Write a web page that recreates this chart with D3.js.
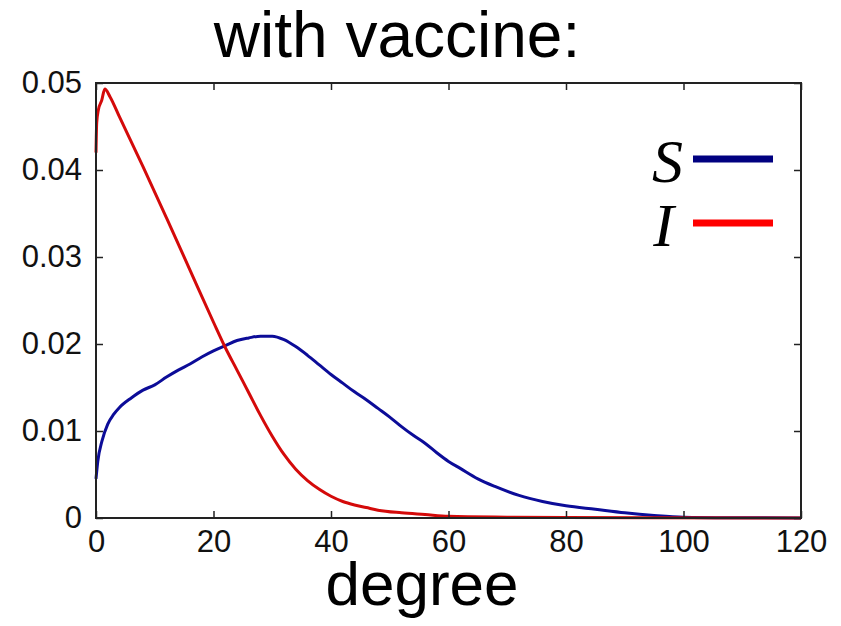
<!DOCTYPE html>
<html>
<head>
<meta charset="utf-8">
<script src="https://cdn.jsdelivr.net/npm/d3@7"></script>
<style>
  html, body { margin: 0; padding: 0; background: #fff; }
  svg { display: block; }
</style>
</head>
<body>
<svg id="chart" width="841" height="626"></svg>
<script>
// Degree distribution of susceptible (S) and infected (I) nodes, with vaccine
const degreeS = [0, 0.3, 1, 2, 3, 4, 6, 8, 10, 12, 14, 16, 18, 20, 22, 24, 26, 28, 30, 32, 34, 36, 38, 40,
  42, 44, 46, 48, 50, 52, 54, 56, 58, 60, 62, 65, 68, 72, 76, 80, 85, 90, 95, 100, 110, 120];
const valuesS = [0.0045, 0.0065, 0.0088, 0.0108, 0.0119, 0.0127, 0.0138, 0.0147, 0.0153, 0.0162, 0.0170,
  0.0177, 0.0185, 0.0192, 0.0198, 0.0204, 0.0207, 0.0209, 0.0209, 0.0205, 0.0197, 0.0187, 0.0176, 0.0165,
  0.0155, 0.0145, 0.0136, 0.0126, 0.0116, 0.0105, 0.0095, 0.0086, 0.0075, 0.0065, 0.0057, 0.0045, 0.0036,
  0.0026, 0.0019, 0.0014, 0.0010, 0.0006, 0.0003, 0.0001, 0.00003, 0];

const degreeI = [0, 0.12, 0.4, 0.97, 1.5, 2.4, 4, 8, 12, 16, 20, 22, 24, 26, 28, 30, 32, 34, 36, 38, 40,
  42, 44, 46, 48, 52, 56, 60, 70, 80, 120];
const valuesI = [0.0420, 0.0454, 0.0469, 0.0480, 0.0493, 0.0484, 0.0461, 0.0404, 0.0345, 0.0285, 0.0225,
  0.0196, 0.0170, 0.0144, 0.0118, 0.0094, 0.0073, 0.0056, 0.0043, 0.0033, 0.0025, 0.0019, 0.0015, 0.0012,
  0.0009, 0.0006, 0.0004, 0.0002, 0.0001, 0.00005, 0];

const xTicks = [0, 20, 40, 60, 80, 100, 120];
const yTicks = [0, 0.01, 0.02, 0.03, 0.04, 0.05];
const yTickLabels = ["0", "0.01", "0.02", "0.03", "0.04", "0.05"];

const seriesNames = ["S", "I"];
const curveColors = ["#0c0c98", "#d40a0a"];
const legendColors = ["#000080", "#ff0000"];

const svg = d3.select("#chart");
const plotLeft = 96, plotRight = 801, plotTop = 83, plotBottom = 518;

const x = d3.scaleLinear().domain([0, 120]).range([plotLeft, plotRight]);
const y = d3.scaleLinear().domain([0, 0.05]).range([plotBottom, plotTop]);

const font = "Liberation Sans, Arial, sans-serif";

// Title
svg.append("text")
  .attr("x", 397).attr("y", 57)
  .attr("text-anchor", "middle")
  .attr("font-family", font)
  .attr("font-size", 64)
  .text("with vaccine:");

// Curves
const line = d3.line()
  .x(d => x(d[0])).y(d => y(d[1]))
  .curve(d3.curveMonotoneX);

const plot = svg.append("g");
plot.append("path")
  .datum(degreeS.map((d, i) => [d, valuesS[i]]))
  .attr("d", line)
  .attr("fill", "none").attr("stroke", curveColors[0])
  .attr("stroke-width", 3).attr("stroke-linejoin", "round");
plot.append("path")
  .datum(degreeI.map((d, i) => [d, valuesI[i]]))
  .attr("d", line)
  .attr("fill", "none").attr("stroke", curveColors[1])
  .attr("stroke-width", 3).attr("stroke-linejoin", "round");

// Axes: ticks point inward on all four sides
const tickLen = 7;
const axisColor = "#222";

const bottomAxis = d3.axisBottom(x).tickValues(xTicks).tickSize(-tickLen).tickPadding(14).tickFormat(d3.format("d"));
const topAxis = d3.axisTop(x).tickValues(xTicks).tickSize(-tickLen).tickFormat("");
const leftAxis = d3.axisLeft(y).tickValues(yTicks).tickSize(-tickLen).tickPadding(14)
  .tickFormat((d, i) => yTickLabels[i]);
const rightAxis = d3.axisRight(y).tickValues(yTicks).tickSize(-tickLen).tickFormat("");

function styleAxis(g) {
  g.select(".domain").remove();
  g.selectAll(".tick line").attr("stroke", axisColor).attr("stroke-width", 1.5);
  g.selectAll(".tick text").attr("fill", "#111").attr("font-family", font).attr("font-size", 31);
}

svg.append("g").attr("transform", `translate(0,${plotBottom})`).call(bottomAxis).call(styleAxis)
  .selectAll(".tick text").attr("dy", "0.71em").attr("y", 12);
svg.append("g").attr("transform", `translate(0,${plotTop})`).call(topAxis).call(styleAxis);
svg.append("g").attr("transform", `translate(${plotLeft},0)`).call(leftAxis).call(styleAxis);
svg.append("g").attr("transform", `translate(${plotRight},0)`).call(rightAxis).call(styleAxis);

// Frame
svg.append("rect")
  .attr("x", plotLeft).attr("y", plotTop)
  .attr("width", plotRight - plotLeft).attr("height", plotBottom - plotTop)
  .attr("fill", "none").attr("stroke", axisColor).attr("stroke-width", 2);

// X label
svg.append("text")
  .attr("x", 422).attr("y", 605)
  .attr("text-anchor", "middle")
  .attr("font-family", font)
  .attr("font-size", 62)
  .text("degree");

// Legend
const legendY = [159, 223];
const legendTextX = [683, 674];
const legend = svg.append("g");
seriesNames.forEach((name, i) => {
  legend.append("text")
    .attr("x", legendTextX[i]).attr("y", legendY[i] + 23)
    .attr("text-anchor", "end")
    .attr("font-family", "Liberation Serif, Times New Roman, serif")
    .attr("font-style", "italic")
    .attr("font-size", 62)
    .text(name);
  legend.append("line")
    .attr("x1", 693).attr("x2", 773)
    .attr("y1", legendY[i]).attr("y2", legendY[i])
    .attr("stroke", legendColors[i]).attr("stroke-width", 7);
});
</script>
</body>
</html>
